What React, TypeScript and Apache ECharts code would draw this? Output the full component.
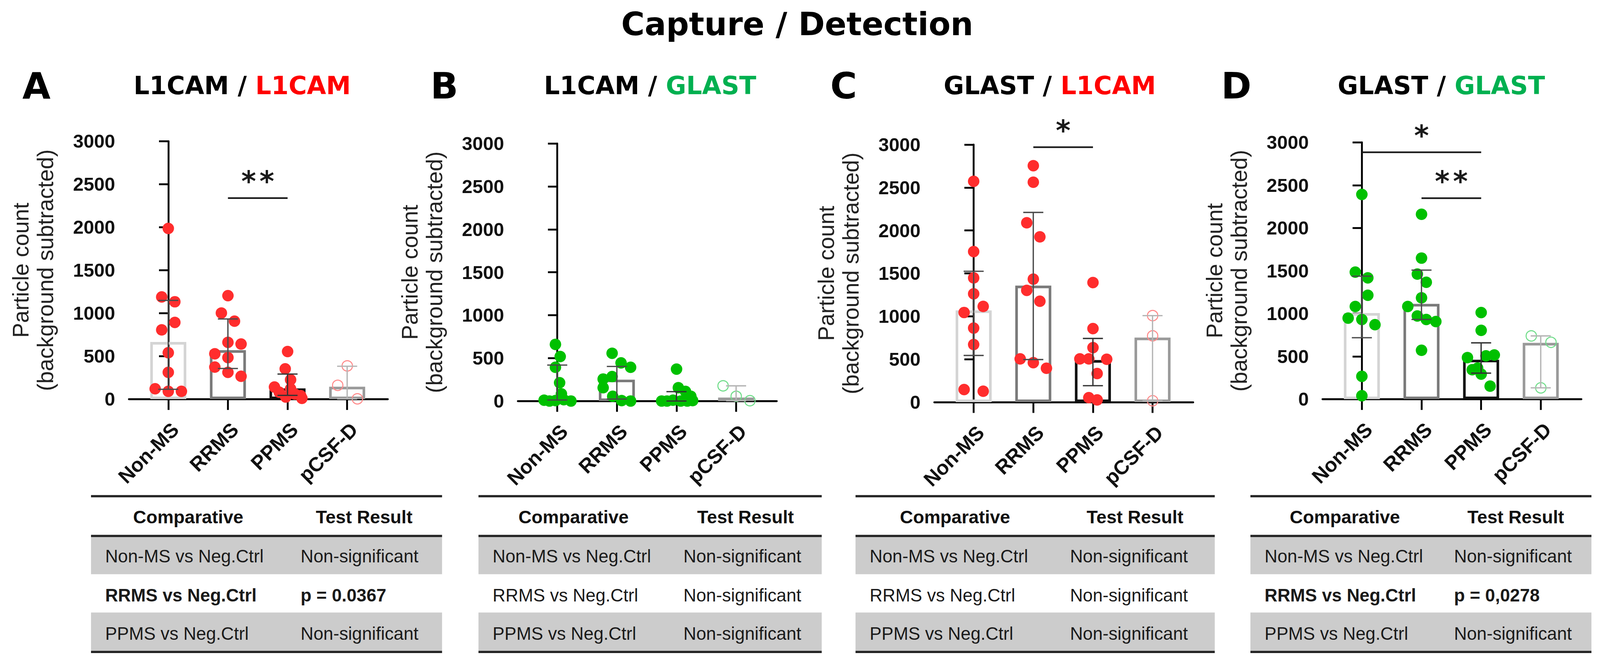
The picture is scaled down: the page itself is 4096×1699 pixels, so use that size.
import React, { useEffect, useRef } from 'react';
import * as echarts from 'echarts';

const S = 0.951;
const s = (v: number) => v * S;

// ---------- text ----------
const mainTitle = 'Capture / Detection';
const panelLetters = ['A', 'B', 'C', 'D'];
const captureMarkers = ['L1CAM', 'L1CAM', 'GLAST', 'GLAST'];
const detectionMarkers = ['L1CAM', 'GLAST', 'L1CAM', 'GLAST'];
const yAxisTitle = 'Particle count\n(background subtracted)';
const categories = ['Non-MS', 'RRMS', 'PPMS', 'pCSF-D'];
const yMin = 0;
const yMax = 3000;
const yInterval = 500;

// ---------- Panel A (L1CAM / L1CAM): [jitter, value] ----------
const aNonMS = [[0, 1986], [-0.11, 1189], [0.11, 1133], [0.11, 893], [-0.11, 806], [0, 540], [0, 312], [-0.22, 121], [0, 91], [0.22, 91]];
const aRRMS = [[0, 1204], [-0.11, 1002], [0.11, 907], [0, 661], [0.22, 641], [-0.22, 528], [0, 484], [-0.22, 373], [0, 312], [0.22, 266]];
const aPPMS = [[0, 554], [-0.04, 353], [0.05, 226], [-0.22, 141], [0.05, 121], [-0.14, 81], [0.12, 60], [0.22, 40], [-0.03, 25], [0.24, 10]];
const aPCSF = [[0, 387], [-0.16, 161], [0.17, 4]];
const aMedian = [665, 570, 125, 145];
const aLow = [115, 357, 44, 4];
const aHigh = [1149, 933, 292, 383];
const aSig = [[1, 2, 2339, 2]];

// ---------- Panel B (L1CAM / GLAST) ----------
const bNonMS = [[-0.03, 660], [0.05, 518], [-0.03, 393], [0.04, 213], [0.07, 84], [-0.22, 10], [-0.13, 0], [-0.03, 5], [0.11, 15], [0.23, 0]];
const bRRMS = [[-0.08, 556], [0.07, 444], [0.23, 393], [-0.08, 285], [-0.23, 256], [-0.23, 155], [-0.07, 55], [0.08, 5], [0.23, 0]];
const bPPMS = [[0, 372], [0.03, 155], [0.15, 112], [0.24, 55], [-0.25, 0], [-0.16, 0], [-0.06, 10], [0.07, 0], [0.18, 0], [0.27, 5]];
const bPCSF = [[-0.22, 177], [0, 55], [0.23, 4]];
const bMedian = [15, 249, 8, 40];
const bLow = [12, 23, 0, 4];
const bHigh = [419, 403, 109, 177];
const bSig: number[][] = [];

// ---------- Panel C (GLAST / L1CAM) ----------
const cNonMS = [[0, 2572], [0, 1754], [0, 1447], [0, 1262], [0.16, 1115], [-0.16, 1044], [0, 863], [0, 671], [-0.16, 147], [0.16, 127]];
const cRRMS = [[0, 2754], [0, 2562], [-0.11, 2089], [0.11, 1925], [0, 1433], [-0.11, 1302], [0.11, 1175], [-0.22, 504], [0, 460], [0.22, 395]];
const cPPMS = [[0, 1393], [0, 857], [0, 635], [-0.22, 504], [-0.07, 504], [0.23, 500], [0.07, 333], [-0.07, 52], [0.07, 26]];
const cPCSF = [[0, 1008], [0, 772], [0, 16]];
const cMedian = [1068, 1357, 490, 752];
const cLow = [544, 496, 192, 16];
const cHigh = [1524, 2210, 742, 1008];
const cSig = [[1, 2, 2970, 1]];

// ---------- Panel D (GLAST / GLAST) ----------
const dNonMS = [[0, 2392], [-0.11, 1484], [0.1, 1417], [0.1, 1214], [-0.11, 1083], [-0.23, 947], [0, 931], [0.22, 870], [0, 267], [0, 40]];
const dRRMS = [[0, 2160], [0, 1648], [-0.07, 1461], [0.08, 1366], [0, 1184], [-0.23, 1083], [-0.07, 972], [0.08, 931], [0.24, 907], [0, 571]];
const dPPMS = [[0, 1012], [0, 804], [-0.23, 486], [0.08, 506], [0.22, 516], [-0.15, 344], [-0.06, 364], [0, 293], [0.15, 152]];
const dPCSF = [[-0.16, 739], [0.17, 664], [0, 132]];
const dMedian = [1006, 1113, 461, 658];
const dLow = [718, 931, 304, 132];
const dHigh = [1437, 1508, 658, 739];
const dSig = [[0, 2, 2884, 1], [1, 2, 2348, 2]];

// ---------- tables ----------
const tableHeader = ['Comparative', 'Test Result'];
const comparisons = ['Non-MS vs Neg.Ctrl', 'RRMS vs Neg.Ctrl', 'PPMS vs Neg.Ctrl'];
const aResults = ['Non-significant', 'p = 0.0367', 'Non-significant'];
const bResults = ['Non-significant', 'Non-significant', 'Non-significant'];
const cResults = ['Non-significant', 'Non-significant', 'Non-significant'];
const dResults = ['Non-significant', 'p = 0,0278', 'Non-significant'];
const aBoldRows = [false, true, false];
const bBoldRows = [false, false, false];
const cBoldRows = [false, false, false];
const dBoldRows = [false, true, false];

// ---------- styles ----------
const RED = '#ff0000';
const GREEN = '#00b050';
const ARIAL = '"Liberation Sans", Arial, Helvetica, sans-serif';
const VERDANA = '"DejaVu Sans", Verdana, sans-serif';
const barBorders = ['#d4d4d4', '#7a7a7a', '#111111', '#9a9a9a'];
const errColors = ['#4a4a4a', '#4a4a4a', '#333333', '#b5b5b5'];

const panels = [
  { groups: [aNonMS, aRRMS, aPPMS], open: aPCSF, median: aMedian, low: aLow, high: aHigh, sig: aSig, results: aResults, bold: aBoldRows, dot: '#ff2d2d', ring: '#ff8a8a', det: RED },
  { groups: [bNonMS, bRRMS, bPPMS], open: bPCSF, median: bMedian, low: bLow, high: bHigh, sig: bSig, results: bResults, bold: bBoldRows, dot: '#00c000', ring: '#70dd8a', det: GREEN },
  { groups: [cNonMS, cRRMS, cPPMS], open: cPCSF, median: cMedian, low: cLow, high: cHigh, sig: cSig, results: cResults, bold: cBoldRows, dot: '#ff2d2d', ring: '#ff8a8a', det: RED },
  { groups: [dNonMS, dRRMS, dPPMS], open: dPCSF, median: dMedian, low: dLow, high: dHigh, sig: dSig, results: dResults, bold: dBoldRows, dot: '#00c000', ring: '#70dd8a', det: GREEN },
];

// layout in reference pixels
const layout = [
  { axisX: 347, top: 380, zero: 1074, titleX: 652, letterX: 98, tableL: 245, tableR: 1190 },
  { axisX: 1394, top: 386, zero: 1079, titleX: 1750, letterX: 1196, tableL: 1288, tableR: 2212 },
  { axisX: 2515, top: 389, zero: 1082, titleX: 2826, letterX: 2271, tableL: 2303, tableR: 3270 },
  { axisX: 3560, top: 383, zero: 1074, titleX: 3880, letterX: 3328, tableL: 3366, tableR: 4284 },
];
const FRAME_W = 697;
const CAT_OFF = 25.75;
const CAT_W = 642;
const X_MIN = -0.66;
const X_MAX = 3.68;

function buildOption() {
  const grid: any[] = [];
  const xAxis: any[] = [];
  const yAxis: any[] = [];
  const series: any[] = [];
  const graphic: any[] = [];

  graphic.push({
    type: 'text', x: s(2146), y: s(65),
    style: { text: mainTitle, fontSize: s(86), fontWeight: 'bold', fontFamily: VERDANA, fill: '#000', align: 'center', verticalAlign: 'middle' },
  });

  panels.forEach((P, p) => {
    const L = layout[p];
    const fi = 2 * p;
    const ci = 2 * p + 1;
    const top = s(L.top);
    const height = s(L.zero - L.top);
    grid.push({ left: s(L.axisX), top, width: s(FRAME_W), height });
    grid.push({ left: s(L.axisX + CAT_OFF), top, width: s(CAT_W), height });

    xAxis.push({
      gridIndex: fi, type: 'value', min: X_MIN, max: X_MAX,
      axisLine: { show: true, onZero: false, lineStyle: { color: '#000', width: s(5) } },
      axisTick: { show: false }, axisLabel: { show: false }, splitLine: { show: false },
    });
    xAxis.push({
      gridIndex: ci, type: 'category', data: categories, boundaryGap: true,
      axisLine: { show: false },
      axisTick: { show: true, alignWithLabel: true, length: s(29), lineStyle: { color: '#000', width: s(5) } },
      axisLabel: {
        interval: 0, rotate: 45, fontSize: s(54), fontWeight: 'bold', fontFamily: ARIAL, color: '#111',
        margin: s(54), align: 'right', verticalAlign: 'top',
      },
      splitLine: { show: false },
    });
    yAxis.push({
      gridIndex: fi, type: 'value', min: yMin, max: yMax, interval: yInterval,
      axisLine: { show: true, lineStyle: { color: '#000', width: s(5) } },
      axisTick: { show: true, length: s(25), lineStyle: { color: '#000', width: s(5) } },
      axisLabel: { fontSize: s(51), fontWeight: 'bold', fontFamily: ARIAL, color: '#111', margin: s(37), formatter: (v: number) => String(v) },
      splitLine: { show: false },
      name: yAxisTitle, nameLocation: 'middle', nameRotate: 90, nameGap: s(192),
      nameTextStyle: { fontSize: s(60), fontFamily: ARIAL, color: '#222', lineHeight: s(66) },
    });
    yAxis.push({ gridIndex: ci, type: 'value', min: yMin, max: yMax, show: false });

    // bars (median)
    series.push({
      type: 'bar', xAxisIndex: ci, yAxisIndex: ci, barWidth: s(97), z: 2, silent: true,
      data: P.median.map((v, i) => ({
        value: v,
        itemStyle: { color: 'rgba(255,255,255,0)', borderColor: barBorders[i], borderWidth: s(7) },
      })),
    });

    // filled points
    const filled: number[][] = [];
    P.groups.forEach((g, i) => g.forEach(([j, v]) => filled.push([i + j, v])));
    series.push({
      type: 'scatter', xAxisIndex: fi, yAxisIndex: fi, symbol: 'circle', symbolSize: s(31), z: 3, silent: true,
      itemStyle: { color: P.dot, opacity: 1 },
      data: filled,
    });
    // open points (pCSF-D)
    series.push({
      type: 'scatter', xAxisIndex: fi, yAxisIndex: fi, symbol: 'circle', symbolSize: s(28), z: 3, silent: true,
      itemStyle: { color: 'rgba(0,0,0,0)', borderColor: P.ring, borderWidth: s(2.8), opacity: 1 },
      data: P.open.map(([j, v]) => [3 + j, v]),
    });

    // error bars
    series.push({
      type: 'custom', xAxisIndex: ci, yAxisIndex: ci, z: 4, silent: true,
      encode: { x: 0, y: [1, 2] },
      data: categories.map((c, i) => [i, P.low[i], P.high[i]]),
      renderItem: (params: any, api: any) => {
        const i = api.value(0);
        const hi = api.coord([i, api.value(2)]);
        const lo = api.coord([i, api.value(1)]);
        const hw = s(27);
        const st = { stroke: errColors[i], lineWidth: s(3.5) };
        return {
          type: 'group',
          children: [
            { type: 'line', shape: { x1: hi[0], y1: hi[1], x2: lo[0], y2: lo[1] }, style: st },
            { type: 'line', shape: { x1: hi[0] - hw, y1: hi[1], x2: hi[0] + hw, y2: hi[1] }, style: st },
            { type: 'line', shape: { x1: lo[0] - hw, y1: lo[1], x2: lo[0] + hw, y2: lo[1] }, style: st },
          ],
        };
      },
    });

    // significance bars
    if (P.sig.length) {
      series.push({
        type: 'custom', xAxisIndex: fi, yAxisIndex: fi, z: 4, silent: true, clip: false,
        encode: { x: [0, 1], y: 2 },
        data: P.sig,
        renderItem: (params: any, api: any) => {
          const y = api.value(2);
          const a = api.coord([api.value(0), y]);
          const b = api.coord([api.value(1), y]);
          const n = api.value(3);
          const mid = (a[0] + b[0]) / 2;
          const children: any[] = [
            { type: 'line', shape: { x1: a[0], y1: a[1], x2: b[0], y2: b[1] }, style: { stroke: '#1a1a1a', lineWidth: s(4.5) } },
          ];
          for (let k = 0; k < n; k++) {
            children.push({
              type: 'text', x: mid + (k - (n - 1) / 2) * s(49), y: a[1] - s(45),
              style: { text: '*', fontSize: s(76), fontWeight: 'bold', fontFamily: VERDANA, fill: '#1a1a1a', align: 'center', verticalAlign: 'middle' },
            });
          }
          return { type: 'group', children };
        },
      });
    }

    // panel letter & title
    graphic.push({
      type: 'text', x: s(L.letterX), y: s(231),
      style: { text: panelLetters[p], fontSize: s(98), fontWeight: 'bold', fontFamily: VERDANA, fill: '#000', align: 'center', verticalAlign: 'middle' },
    });
    const tf = { fontSize: s(67), fontWeight: 'bold', fontFamily: VERDANA };
    graphic.push({
      type: 'text', x: s(L.titleX), y: s(230),
      style: {
        text: `{k|${captureMarkers[p]}} {k|/} {c|${detectionMarkers[p]}}`,
        ...tf, fill: '#000', align: 'center', verticalAlign: 'middle',
        rich: { k: { ...tf, fill: '#000' }, c: { ...tf, fill: P.det } },
      },
    });

    // table
    const tl = L.tableL;
    const tw = L.tableR - L.tableL;
    const lineH = 6;
    const lineFill = '#232323';
    const gray = '#cccccc';
    graphic.push({ type: 'rect', shape: { x: s(tl), y: s(1445), width: s(tw), height: s(100) }, style: { fill: gray } });
    graphic.push({ type: 'rect', shape: { x: s(tl), y: s(1648), width: s(tw), height: s(103) }, style: { fill: gray } });
    [1335, 1442, 1754].forEach((yy) => {
      graphic.push({ type: 'rect', shape: { x: s(tl), y: s(yy - lineH / 2), width: s(tw), height: s(lineH) }, style: { fill: lineFill } });
    });
    graphic.push({
      type: 'text', x: s(tl + 0.277 * tw), y: s(1391),
      style: { text: tableHeader[0], fontSize: s(49), fontWeight: 'bold', fontFamily: ARIAL, fill: '#111', align: 'center', verticalAlign: 'middle' },
    });
    graphic.push({
      type: 'text', x: s(tl + 0.778 * tw), y: s(1391),
      style: { text: tableHeader[1], fontSize: s(49), fontWeight: 'bold', fontFamily: ARIAL, fill: '#111', align: 'center', verticalAlign: 'middle' },
    });
    const rowY = [1497, 1602, 1705];
    comparisons.forEach((cmp, r) => {
      const bw = P.bold[r] ? 'bold' : 'normal';
      graphic.push({
        type: 'text', x: s(tl + 38), y: s(rowY[r]),
        style: { text: cmp, fontSize: s(48), fontWeight: bw, fontFamily: ARIAL, fill: '#1a1a1a', align: 'left', verticalAlign: 'middle' },
      });
      graphic.push({
        type: 'text', x: s(tl + 0.597 * tw), y: s(rowY[r]),
        style: { text: P.results[r], fontSize: s(48), fontWeight: bw, fontFamily: ARIAL, fill: '#1a1a1a', align: 'left', verticalAlign: 'middle' },
      });
    });
  });

  return { animation: false, backgroundColor: '#ffffff', grid, xAxis, yAxis, series, graphic };
}

export default function App() {
  const ref = useRef<HTMLDivElement>(null);
  useEffect(() => {
    document.body.style.margin = '0';
    document.body.style.overflow = 'hidden';
    const chart = echarts.init(ref.current!, null, { renderer: 'svg' });
    chart.setOption(buildOption() as any);
    return () => chart.dispose();
  }, []);
  return <div ref={ref} style={{ position: 'fixed', left: 0, top: 0, width: 4096, height: 1699, background: '#fff' }} />;
}
